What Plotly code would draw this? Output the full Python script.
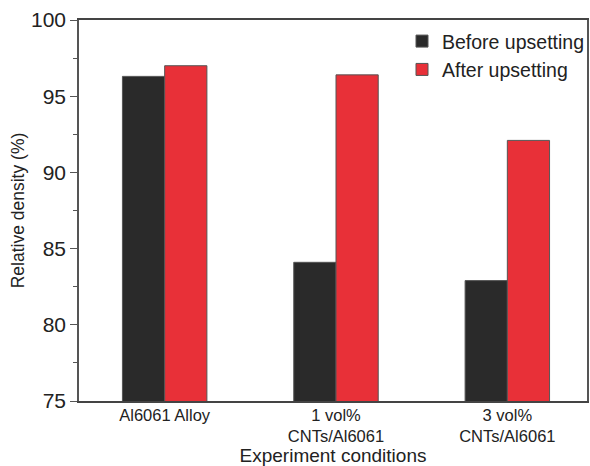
import plotly.graph_objects as go

categories = ["Al6061 Alloy", "1 vol%<br>CNTs/Al6061", "3 vol%<br>CNTs/Al6061"]
before_upsetting = [96.3, 84.1, 82.9]
after_upsetting = [97.0, 96.4, 92.1]
y_ticks = [75, 80, 85, 90, 95, 100]
x_title = "Experiment conditions"
y_title = "Relative density (%)"

FONT = "Arial, Liberation Sans, Helvetica, sans-serif"

fig = go.Figure()
fig.add_trace(go.Bar(
    x=categories, y=before_upsetting, name="Before upsetting",
    marker=dict(color="#2a2a2a", line=dict(color="#555555", width=1)),
))
fig.add_trace(go.Bar(
    x=categories, y=after_upsetting, name="After upsetting",
    marker=dict(color="#e83038", line=dict(color="#555555", width=1)),
))

fig.update_layout(
    width=590, height=466,
    margin=dict(l=79, r=0, t=20, b=65),
    paper_bgcolor="white", plot_bgcolor="white",
    barmode="group", bargap=0.507, bargroupgap=0,
    font=dict(family=FONT, color="#222222"),
    showlegend=True,
    legend=dict(
        x=0.636, y=0.995, xanchor="left", yanchor="top",
        bgcolor="rgba(0,0,0,0)", borderwidth=0,
        font=dict(size=19.5, family=FONT, color="#222222"),
        tracegroupgap=0, itemwidth=30,
    ),
)

fig.update_xaxes(
    type="category", range=[-0.5, 2.465],
    showline=True, linecolor="#444444", linewidth=1.5, mirror=True,
    ticks="", showgrid=False, zeroline=False,
    tickfont=dict(size=16.5, family=FONT, color="#222222"),
    ticklabelstandoff=-2,
    title=dict(text=x_title, font=dict(size=19, family=FONT, color="#222222"), standoff=12),
    automargin=False,
)
fig.update_yaxes(
    range=[75, 100], tickvals=y_ticks,
    showline=True, linecolor="#555555", linewidth=1.5, mirror=True,
    ticks="outside", ticklen=7, tickwidth=1.2, tickcolor="#555555",
    minor=dict(dtick=2.5, ticks="outside", ticklen=4, tickwidth=1, tickcolor="#555555", showgrid=False),
    showgrid=False, zeroline=False,
    tickfont=dict(size=21, family=FONT, color="#222222"),
    title=dict(text=y_title, font=dict(size=17.5, family=FONT, color="#222222"), standoff=2),
    automargin=False,
)

fig.write_html("out.html")
